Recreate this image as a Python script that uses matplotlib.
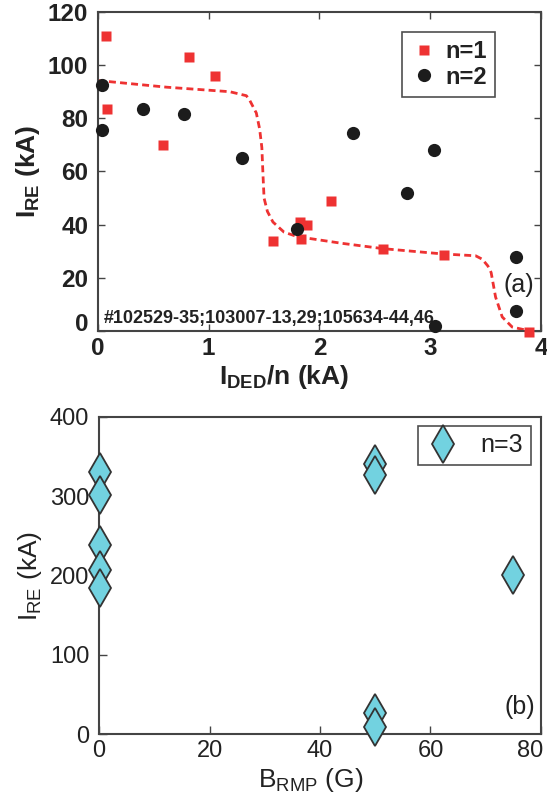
"""Runaway current vs DED / RMP field"""
import numpy as np
import matplotlib
matplotlib.use('Agg')
import matplotlib.pyplot as plt
from matplotlib.transforms import ScaledTranslation

# panel (a): n=1 squares
n1_x = [0.07, 0.08, 0.59, 0.82, 1.06, 1.58, 1.82, 1.89, 1.83, 2.10, 2.57, 3.12, 3.89]
n1_y = [111, 83.5, 70, 103, 96, 33.8, 41, 40, 34.6, 49, 31, 28.5, -0.5]
# panel (a): n=2 circles
n2_x = [0.04, 0.04, 0.41, 0.78, 1.30, 2.30, 3.03, 2.79, 1.80, 3.77, 3.77, 3.04]
n2_y = [92.5, 75.6, 83.5, 81.6, 65, 74.4, 68, 51.8, 38.3, 27.8, 7.5, 1.9]
# dashed guide curve
fit_x = [0.0, 0.05, 0.62, 1.19, 1.34, 1.37, 1.43, 1.46, 1.48, 1.49, 1.50, 1.53, 1.58,
         1.68, 1.8, 2.2, 2.57, 3.11, 3.41, 3.47, 3.52, 3.55, 3.59, 3.65, 3.74, 3.87]
fit_y = [94.2, 94, 91.7, 90, 88.5, 86.8, 82, 76, 69, 59, 50, 45, 41,
         37.2, 35.5, 33, 31, 29, 28.3, 27, 24.5, 22, 12.8, 5.3, 1.5, 0.3]

# panel (b): n=3 diamonds
n3_x = [0.2, 0.2, 0.2, 0.2, 0.2, 50, 50, 75, 50, 50]
n3_y = [331, 302, 238, 207, 184, 341, 327, 201, 26.5, 9]

plt.rcParams['font.family'] = ['Liberation Sans Narrow', 'Liberation Sans', 'DejaVu Sans']
plt.rcParams['mathtext.default'] = 'regular'

RED = '#ee3232'
SPINE = '#444444'
TXT = '#222222'

fig = plt.figure(figsize=(5.47, 7.95), dpi=100)
ax1 = fig.add_axes([0.179, 0.5836, 0.810, 0.4014])
ax2 = fig.add_axes([0.181, 0.0767, 0.808, 0.3988])


def nudge(lab, dx_px, dy_px):
    lab.set_transform(lab.get_transform() +
                      ScaledTranslation(dx_px / 100, dy_px / 100, fig.dpi_scale_trans))


# ---- (a)
ax1.plot(fit_x, fit_y, '--', color=RED, lw=2, dashes=(2.5, 1.5), zorder=2)
ax1.plot(n1_x, n1_y, 's', color=RED, ms=7.3, mec='none', label='n=1', clip_on=False, zorder=3)
ax1.plot(n2_x, n2_y, 'o', color='#1c1c1c', ms=9.5, mec='none', label='n=2', clip_on=False, zorder=4)
ax1.set_xlim(0, 4)
ax1.set_ylim(0, 120)
ax1.set_xticks([0, 1, 2, 3, 4])
ax1.set_yticks(range(0, 121, 20))
ax1.tick_params(direction='in', top=True, right=True, length=5, width=1,
                color=SPINE, labelcolor=TXT, labelsize=17.5)
ax1.tick_params(axis='y', pad=7)
ax1.tick_params(axis='x', pad=4)
for lab in ax1.get_xticklabels() + ax1.get_yticklabels():
    lab.set_fontweight('bold')
# lift the y "0" so it clears the x "0"
nudge(ax1.get_yticklabels()[0], 0, 9)
ax1.set_xlabel('$I_{DED}$/n (kA)', fontsize=19, fontweight='bold', color=TXT)
ax1.xaxis.set_label_coords(0.42, -0.1)
ax1.set_ylabel('$I_{RE}$ (kA)', fontsize=19, fontweight='bold', color=TXT, labelpad=4)
ax1.text(0.055, 4.9, '#102529-35;103007-13,29;105634-44,46', fontsize=13,
         fontweight='bold', va='center', ha='left', color=TXT)
ax1.text(3.8, 17.3, '(a)', fontsize=18, ha='center', va='center', color=TXT)
leg = ax1.legend(loc='upper left', bbox_to_anchor=(0.686, 0.937), borderaxespad=0,
                 frameon=True, fancybox=False, handletextpad=0.3,
                 handlelength=1.2, borderpad=0.35, labelspacing=0.1,
                 prop={'weight': 'bold', 'size': 17})
leg.get_frame().set_edgecolor(TXT)
leg.get_frame().set_linewidth(1.2)
for t in leg.get_texts():
    t.set_color(TXT)

# ---- (b)
ax2.plot(n3_x, n3_y, 'd', color='#72d2e0', ms=19, mec='#333333', mew=1.3,
         label='n=3', clip_on=False, zorder=3)
ax2.set_xlim(0, 80)
ax2.set_ylim(0, 400)
ax2.set_xticks(range(0, 81, 20))
ax2.set_yticks(range(0, 401, 100))
ax2.tick_params(direction='in', length=6, width=1, color=SPINE, labelcolor=TXT, labelsize=17)
ax2.tick_params(axis='y', pad=7)
ax2.tick_params(axis='x', pad=4)
nudge(ax2.get_xticklabels()[-1], -11, 0)
ax2.set_xlabel('$B_{RMP}$ (G)', fontsize=19, color=TXT)
ax2.xaxis.set_label_coords(0.48, -0.1)
ax2.set_ylabel('$I_{RE}$ (kA)', fontsize=19, color=TXT, labelpad=4)
ax2.text(76.2, 34, '(b)', fontsize=18, ha='center', va='center', color=TXT)
leg2 = ax2.legend(loc='upper left', bbox_to_anchor=(0.722, 0.972), borderaxespad=0,
                  frameon=True, fancybox=False, handletextpad=0.8, handlelength=1.4,
                  borderpad=0.3, prop={'size': 18})
leg2.get_frame().set_edgecolor(TXT)
leg2.get_frame().set_linewidth(1.2)
for t in leg2.get_texts():
    t.set_color(TXT)

for ax in (ax1, ax2):
    for s in ax.spines.values():
        s.set_color(SPINE)
        s.set_linewidth(1.5)

fig.savefig('out.png', dpi=100)
